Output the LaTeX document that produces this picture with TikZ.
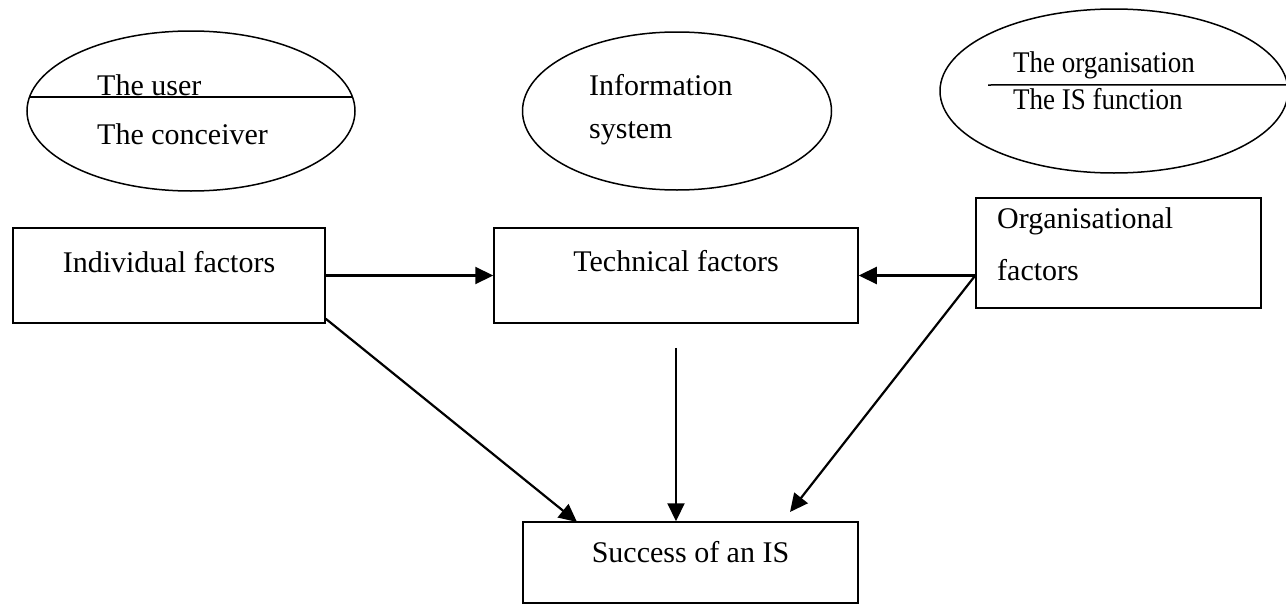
\documentclass[tikz,border=0pt]{standalone}
\usepackage{fontspec}
\setmainfont{Liberation Serif}
\usetikzlibrary{shapes.geometric,arrows.meta}
\tikzset{
  >={Triangle[length=18pt,width=17pt]},
}
\tikzstyle{group}=[draw,ellipse,line width=1.5pt,inner sep=0pt]
\tikzstyle{factor}=[draw,rectangle,line width=1.5pt,inner sep=0pt]
\tikzstyle{link}=[line width=2.2pt,->]
\tikzstyle{every node}=[font=\fontsize{30}{36}\selectfont]
\tikzstyle{txt}=[anchor=base west,inner sep=0pt]
\tikzstyle{ctxt}=[anchor=base,inner sep=0pt]

\begin{document}
\begin{tikzpicture}[x=1pt,y=-1pt]
  \useasboundingbox (0,0) rectangle (1286,605);
  % the three actors
  \node[group,minimum width=328pt,minimum height=160pt] (usr) at (191,111) {};
  \draw[line width=1.5pt] (usr.175) -- (usr.5);
  \node[txt] (usrt) at (97,95) {The user};
  \node[txt] (conc) at (97,144) {The conceiver};
  \node[group,minimum width=309pt,minimum height=158pt] (info) at (677,111) {};
  \node[txt] (infot) at (589,95) {Information};
  \node[txt] (syst) at (589,138) {system};
  \node[group,minimum width=348pt,minimum height=164pt] (orga) at (1114,91) {};
  \coordinate (cut) at (988,85);
  \draw[line width=1.5pt] (cut) -- (orga.2);
  \node[txt] (orgt) at (1013,72) {\scalebox{.9}[1]{The organisation}};
  \node[txt] (isf) at (1013,109) {\scalebox{.9}[1]{The IS function}};
  % factors
  \node[factor,minimum width=312pt,minimum height=95pt] (indiv) at (169,275.5) {};
  \node[ctxt] (indivt) at (169,272) {Individual factors};
  \node[factor,minimum width=364pt,minimum height=95pt] (techn) at (676,275.5) {};
  \node[ctxt] (techt) at (676,271) {Technical factors};
  \node[factor,minimum width=285pt,minimum height=110pt] (orgf) at (1118.5,253) {};
  \node[txt] (orgft) at (997,228) {Organisational};
  \node[txt] (factt) at (997,280) {factors};
  \node[factor,minimum width=335pt,minimum height=81pt] (succ) at (690.5,562.5) {};
  \node[ctxt] (succt) at (690.5,562) {Success of an IS};
  % links
  \coordinate (ojoin) at (orgf.west |- techn.east);
  \coordinate (icorner) at ([yshift=5pt]indiv.south east);
  \coordinate (vstart) at ([yshift=-24pt]techn.south);
  \coordinate (ltip) at (577,522);
  \coordinate (rtip) at (790,512);
  \draw[link] (indiv.east) -- (techn.west);
  \draw[link] (ojoin) -- (techn.east);
  \draw[link] (vstart) -- (techn.south |- succ.north);
  \draw[link] (icorner) -- (ltip);
  \draw[link] (ojoin) -- (rtip);
\end{tikzpicture}
\end{document}
